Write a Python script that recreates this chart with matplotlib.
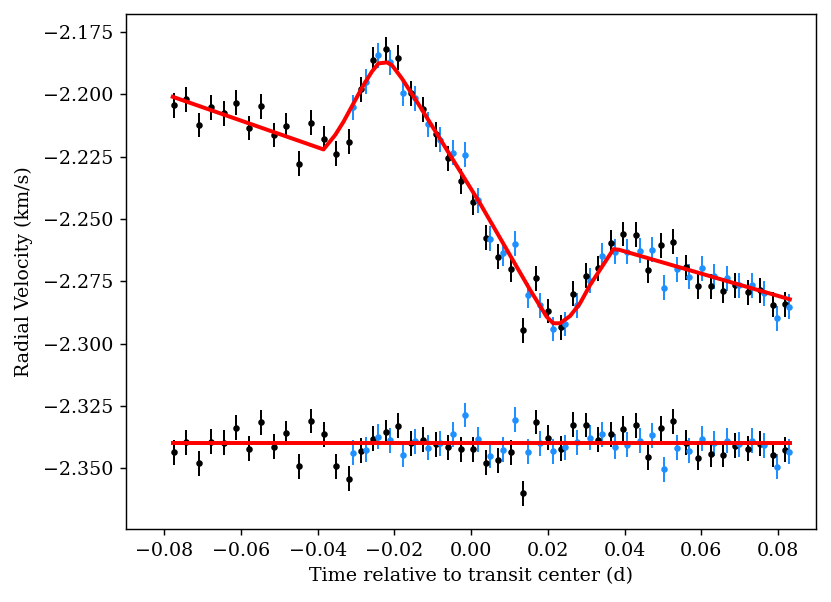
import numpy as np
import matplotlib
matplotlib.use("Agg")
import matplotlib.pyplot as plt

# Data
t_black = [-0.07758, -0.07427, -0.07096, -0.06775, -0.06444, -0.06124, -0.05793, -0.05472,
           -0.05141, -0.04821, -0.04490, -0.04169, -0.03838, -0.03518, -0.03187, -0.02866,
           -0.02546, -0.02215, -0.01894, -0.01571, -0.01243, -0.00920, -0.00592, -0.00268,
           0.00060, 0.00383, 0.00711, 0.01035, 0.01363, 0.01694, 0.02014, 0.02337,
           0.02666, 0.02989, 0.03317, 0.03640, 0.03969, 0.04292, 0.04612, 0.04943,
           0.05264, 0.05595, 0.05915, 0.06246, 0.06567, 0.06887, 0.07218, 0.07539,
           0.07862, 0.08190]
rv_black = [-2.2043, -2.2020, -2.2123, -2.2052, -2.2076, -2.2034, -2.2135, -2.2048, -2.2163, -2.2126,
            -2.2278, -2.2114, -2.2179, -2.2239, -2.2190, -2.1980, -2.1862, -2.1820, -2.1853, -2.1996,
            -2.2060, -2.2160, -2.2257, -2.2348, -2.2433, -2.2575, -2.2652, -2.2702, -2.2946, -2.2737,
            -2.2869, -2.2934, -2.2800, -2.2727, -2.2698, -2.2595, -2.2560, -2.2563, -2.2706, -2.2605,
            -2.2591, -2.2694, -2.2769, -2.2770, -2.2787, -2.2766, -2.2793, -2.2786, -2.2844, -2.2841]
res_black = [-2.3435, -2.3395, -2.3480, -2.3393, -2.3398, -2.3337, -2.3421, -2.3315, -2.3413, -2.3358,
             -2.3492, -2.3310, -2.3363, -2.3492, -2.3541, -2.3429, -2.3381, -2.3355, -2.3329, -2.3399,
             -2.3385, -2.3403, -2.3415, -2.3423, -2.3423, -2.3477, -2.3468, -2.3435, -2.3599, -2.3314,
             -2.3378, -2.3421, -2.3325, -2.3326, -2.3386, -2.3363, -2.3341, -2.3327, -2.3455, -2.3339,
             -2.3311, -2.3397, -2.3457, -2.3443, -2.3446, -2.3410, -2.3422, -2.3401, -2.3445, -2.3426]

t_blue = [-0.03083, -0.02754, -0.02431, -0.02103, -0.01780, -0.01451, -0.01128, -0.00800,
          -0.00477, -0.00149, 0.00175, 0.00503, 0.00826, 0.01154, 0.01478, 0.01798,
          0.02129, 0.02450, 0.02770, 0.03101, 0.03422, 0.03745, 0.04073, 0.04396,
          0.04717, 0.05037, 0.05368, 0.05689, 0.06020, 0.06340, 0.06663, 0.06991,
          0.07315, 0.07635, 0.07966, 0.08287]
rv_blue = [-2.2052, -2.1949, -2.1844, -2.1872, -2.1996, -2.2016, -2.2120, -2.2183, -2.2234, -2.2242,
           -2.2425, -2.2579, -2.2638, -2.2599, -2.2806, -2.2845, -2.2941, -2.2921, -2.2846, -2.2747,
           -2.2647, -2.2631, -2.2631, -2.2628, -2.2623, -2.2775, -2.2702, -2.2731, -2.2698, -2.2730,
           -2.2737, -2.2766, -2.2766, -2.2797, -2.2898, -2.2852]
res_blue = [-2.3438, -2.3426, -2.3374, -2.3387, -2.3445, -2.3391, -2.3417, -2.3399, -2.3363, -2.3286,
            -2.3383, -2.3450, -2.3426, -2.3305, -2.3433, -2.3399, -2.3431, -2.3415, -2.3395, -2.3377,
            -2.3363, -2.3414, -2.3406, -2.3389, -2.3367, -2.3504, -2.3417, -2.3429, -2.3382, -2.3399,
            -2.3389, -2.3403, -2.3390, -2.3407, -2.3493, -2.3433]

err_rv = 0.005

# model curve (Rossiter-McLaughlin fit)
model_t = [-0.0778, -0.03849, -0.03544, -0.03328, -0.03067, -0.02806, -0.02588, -0.02416,
           -0.02197, -0.02066, -0.01806, -0.01329, 0.0023, 0.0154, 0.0197, 0.0214, 0.0232,
           0.0258, 0.0284, 0.0310, 0.0371, 0.0385, 0.0831]
model_rv = [-2.2010, -2.2221, -2.2163, -2.2110, -2.2036, -2.1963, -2.1909, -2.1876,
            -2.1872, -2.1883, -2.1936, -2.2050, -2.2437, -2.2785, -2.2892, -2.2918, -2.2918,
            -2.2889, -2.2838, -2.2765, -2.2621, -2.2623, -2.2822]
res_offset = -2.34

plt.rcParams['font.family'] = 'DejaVu Serif'
plt.rcParams['font.size'] = 10.5

fig = plt.figure(figsize=(831 / 130, 602 / 130), dpi=130)
ax = fig.add_axes([0.1516, 0.1213, 0.8307, 0.8554])

ax.errorbar(t_black, rv_black, yerr=err_rv, fmt='o', color='k', ms=2.6, elinewidth=1.1, zorder=2)
ax.errorbar(t_blue, rv_blue, yerr=err_rv, fmt='o', color='dodgerblue', ms=2.6, elinewidth=1.1, zorder=2)
ax.errorbar(t_black, res_black, yerr=err_rv, fmt='o', color='k', ms=2.6, elinewidth=1.1, zorder=2)
ax.errorbar(t_blue, res_blue, yerr=err_rv, fmt='o', color='dodgerblue', ms=2.6, elinewidth=1.1, zorder=2)

ax.plot(model_t, model_rv, color='red', lw=2.2, zorder=3)
ax.plot([model_t[0], model_t[-1]], [res_offset, res_offset], color='red', lw=2.2, zorder=3)

ax.set_xlim(-0.09, 0.09)
ax.set_ylim(-2.3743, -2.1678)
ax.ticklabel_format(useOffset=False)
ax.set_xlabel('Time relative to transit center (d)')
ax.set_ylabel('Radial Velocity (km/s)', labelpad=5.5)

fig.savefig('out.png', dpi=130)
